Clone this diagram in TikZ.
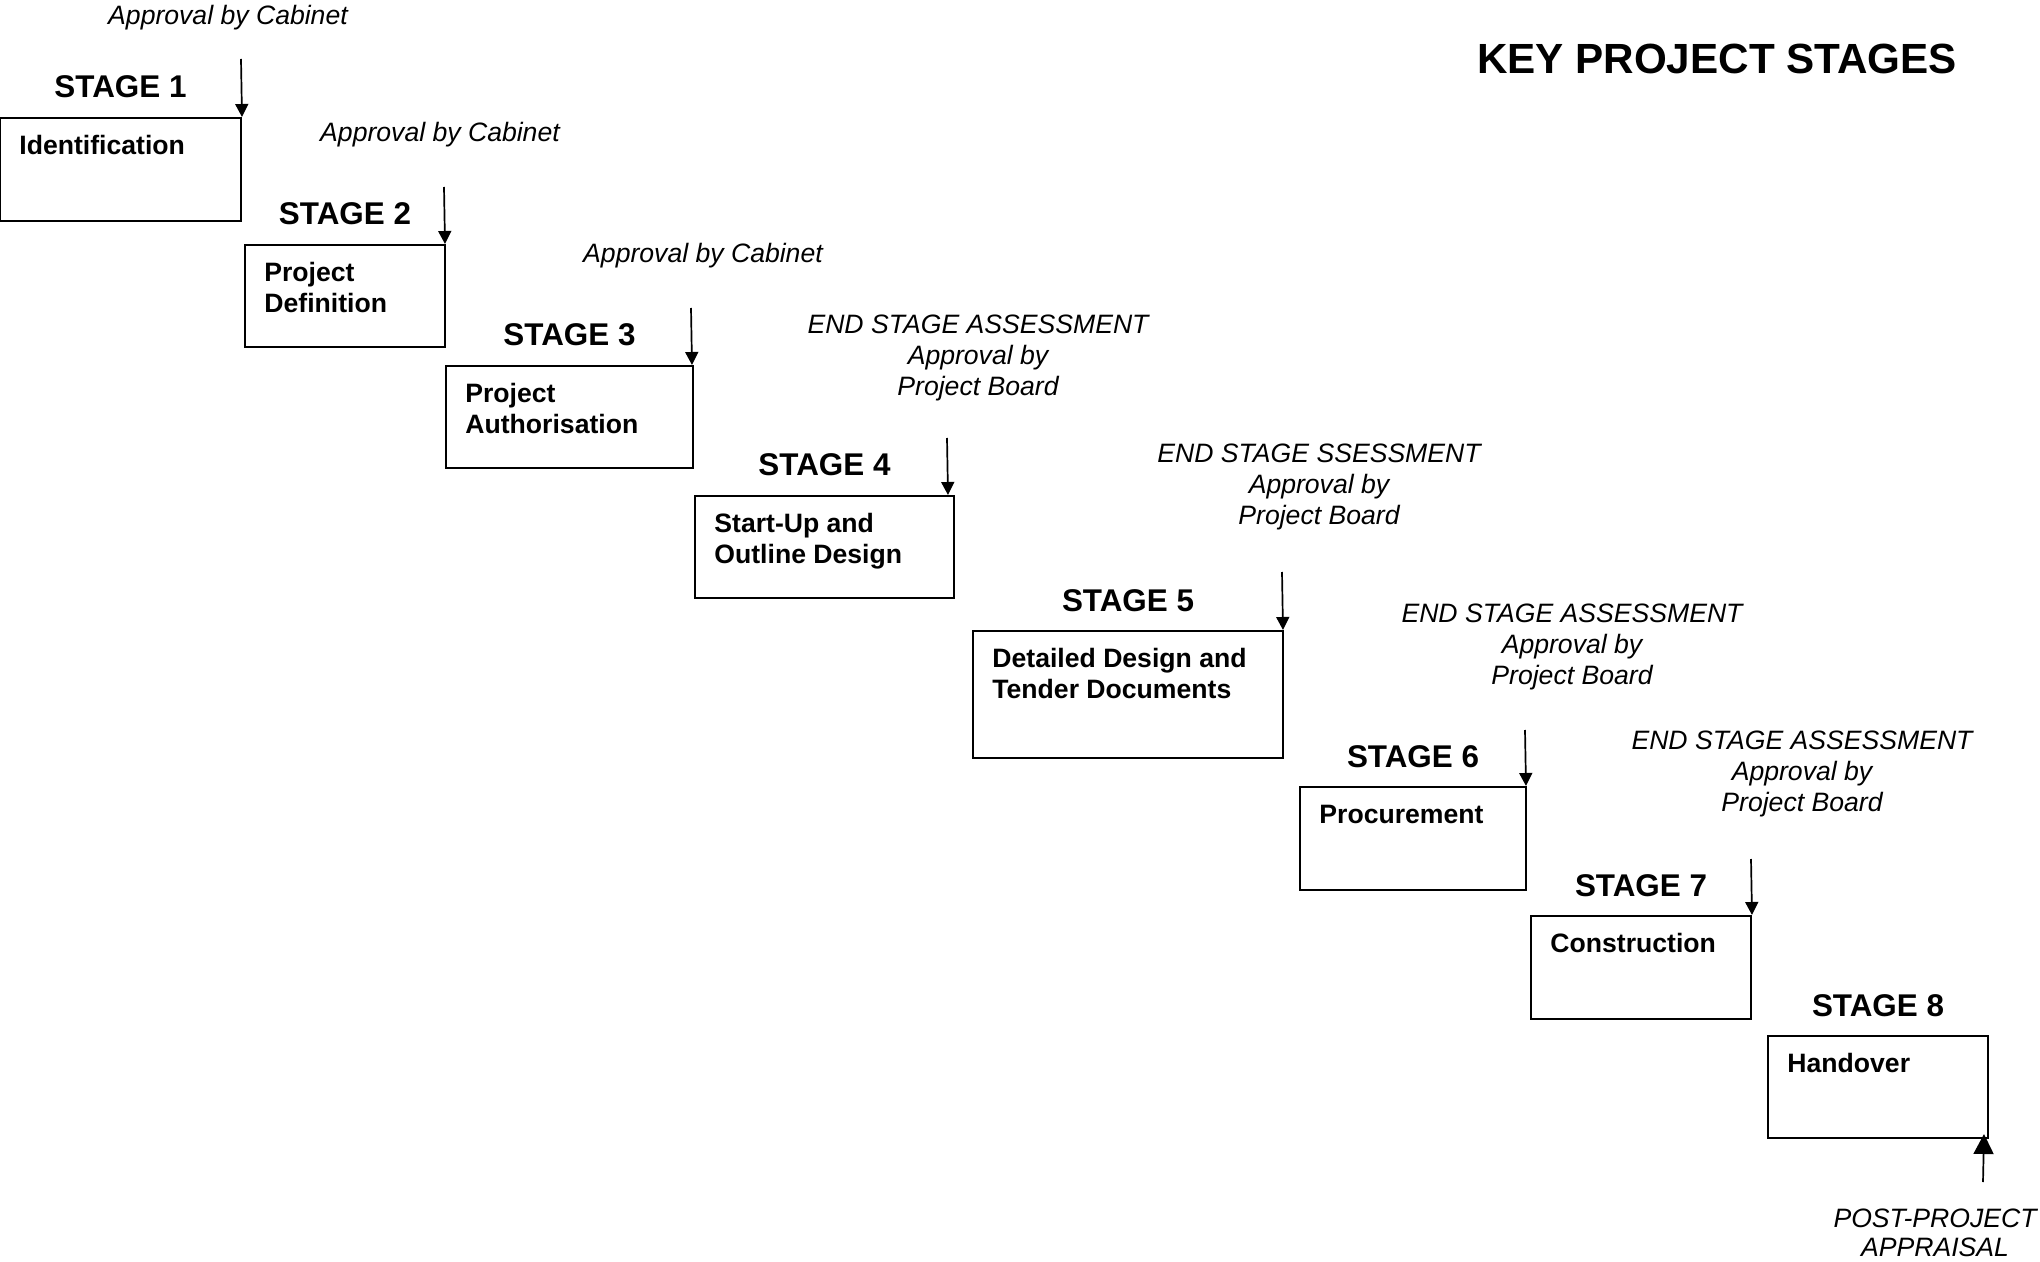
\documentclass[tikz,border=0pt]{standalone}
\usepackage{fontspec}
\setmainfont{Liberation Sans}
\usetikzlibrary{arrows.meta,fit}
\begin{document}
\begin{tikzpicture}[x=0.5pt,y=-0.5pt,
  stagebox/.style={draw, line width=1pt, inner sep=0pt},
  boxtext/.style={anchor=north west, inner sep=0pt, align=left, font=\fontsize{13.3pt}{15.5pt}\selectfont\bfseries},
  stagelbl/.style={anchor=base, inner sep=0pt, font=\fontsize{15.7pt}{18pt}\selectfont\bfseries},
  approval/.style={anchor=north, inner sep=0pt, align=center, font=\fontsize{13.3pt}{15.3pt}\selectfont\itshape},
  arr/.style={line width=0.85pt, -{Triangle[length=6.5pt,width=6.5pt]}},
  bigarr/.style={line width=0.85pt, -{Triangle[length=10pt,width=10pt]}},
  titletext/.style={anchor=base, inner sep=0pt, font=\fontsize{21.1pt}{25pt}\selectfont\bfseries}
]
\useasboundingbox (0,0) rectangle (2040,1262);

% title
\node[titletext] (title) at (1717,74) {KEY PROJECT STAGES};

% boxes
\node[stagebox, fit={(0,118) (241,221)}] (b1) {};
\node[stagebox, fit={(245,245) (445,347)}] (b2) {};
\node[stagebox, fit={(446,366) (693,468)}] (b3) {};
\node[stagebox, fit={(695,496) (954,598)}] (b4) {};
\node[stagebox, fit={(973,631) (1283,758)}] (b5) {};
\node[stagebox, fit={(1300,787) (1526,890)}] (b6) {};
\node[stagebox, fit={(1531,916) (1751,1019)}] (b7) {};
\node[stagebox, fit={(1768,1036) (1988,1138)}] (b8) {};

% box texts
\node[boxtext] (t1) at ([xshift=10pt,yshift=-8.8pt]b1.north west) {Identification};
\node[boxtext] (t2) at ([xshift=10pt,yshift=-8.8pt]b2.north west) {Project\\Definition};
\node[boxtext] (t3) at ([xshift=10pt,yshift=-8.8pt]b3.north west) {Project\\Authorisation};
\node[boxtext] (t4) at ([xshift=10pt,yshift=-8.8pt]b4.north west) {Start-Up and\\Outline Design};
\node[boxtext] (t5) at ([xshift=10pt,yshift=-8.8pt]b5.north west) {Detailed Design and\\Tender Documents};
\node[boxtext] (t6) at ([xshift=10pt,yshift=-9.5pt]b6.north west) {Procurement};
\node[boxtext] (t7) at ([xshift=10pt,yshift=-8.8pt]b7.north west) {Construction};
\node[boxtext] (t8) at ([xshift=10pt,yshift=-8.8pt]b8.north west) {Handover};

% stage labels
\node[stagelbl] (s1) at ([yshift=9.5pt]b1.north) {STAGE 1};
\node[stagelbl] (s2) at ([yshift=9.5pt]b2.north) {STAGE 2};
\node[stagelbl] (s3) at ([yshift=9.5pt]b3.north) {STAGE 3};
\node[stagelbl] (s4) at ([yshift=9.5pt]b4.north) {STAGE 4};
\node[stagelbl] (s5) at ([yshift=9.5pt]b5.north) {STAGE 5};
\node[stagelbl] (s6) at ([yshift=9.5pt]b6.north) {STAGE 6};
\node[stagelbl] (s7) at ([yshift=9.5pt]b7.north) {STAGE 7};
\node[stagelbl] (s8) at ([yshift=9.5pt]b8.north) {STAGE 8};

% approval labels
\node[approval] (l1) at (228,4.5) {Approval by Cabinet};
\node[approval] (l2) at (440,122) {Approval by Cabinet};
\node[approval] (l3) at (703,243) {Approval by Cabinet};
\node[approval] (l4) at (978,315) {END STAGE ASSESSMENT\\Approval by\\Project Board};
\node[approval] (l5) at (1319,444) {END STAGE SSESSMENT\\Approval by\\Project Board};
\node[approval] (l6) at (1572,604) {END STAGE ASSESSMENT\\Approval by\\Project Board};
\node[approval] (l7) at (1802,731) {END STAGE ASSESSMENT\\Approval by\\Project Board};
\node[approval, font=\fontsize{13.3pt}{14.2pt}\selectfont\itshape] (post) at (1935,1209) {POST-PROJECT\\APPRAISAL};

% arrow start points
\coordinate (a1) at (241,59);
\coordinate (a2) at (444,187);
\coordinate (a3) at (691,308);
\coordinate (a4) at (947,438);
\coordinate (a5) at (1282,572);
\coordinate (a6) at (1525,730);
\coordinate (a7) at (1751,859);
\coordinate (a8) at (1983,1182);

% arrows
\draw[arr] (a1) -- (b1.north east);
\draw[arr] (a2) -- ([xshift=-0.5pt]b2.north east);
\draw[arr] (a3) -- ([xshift=-1pt]b3.north east);
\draw[arr] (a4) -- ([xshift=-3.5pt]b4.north east);
\draw[arr] (a5) -- ([xshift=-0.5pt]b5.north east);
\draw[arr] (a6) -- ([xshift=-0.5pt]b6.north east);
\draw[arr] (a7) -- (b7.north east);
\draw[bigarr] (a8) -- ([xshift=-2.5pt,yshift=2.5pt]b8.south east);
\end{tikzpicture}
\end{document}
